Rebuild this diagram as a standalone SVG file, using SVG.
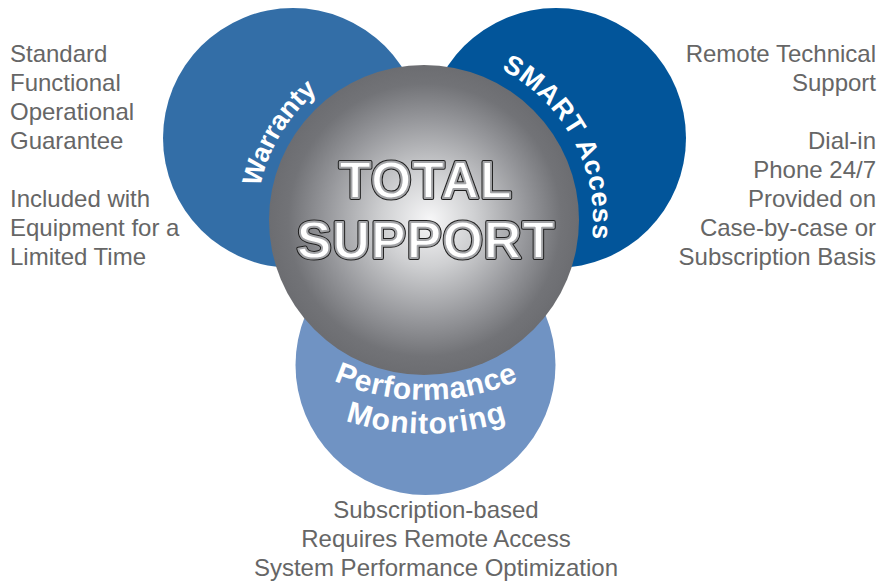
<svg xmlns="http://www.w3.org/2000/svg" width="881" height="581" viewBox="0 0 881 581">
  <defs>
    <radialGradient id="sphereGrad" cx="0.5" cy="0.5" r="0.5" fx="0.52" fy="0.5">
      <stop offset="0" stop-color="#f7f7f8"/>
      <stop offset="0.3" stop-color="#cfd0d2"/>
      <stop offset="0.65" stop-color="#96979b"/>
      <stop offset="0.88" stop-color="#727377"/>
      <stop offset="1" stop-color="#6c6d71"/>
    </radialGradient>
    <path id="arcWarranty" d="M 257,220 A 167 167 0 0 1 424,53"/>
    <path id="arcSmart" d="M 424,51 A 169 169 0 0 1 570.4,304.5"/>
    <path id="arcPerf" d="M 249.8,317.8 A 230 230 0 0 0 602.2,317.8"/>
    <path id="arcMon" d="M 224.5,339 A 262 262 0 0 0 627.5,339"/>
    <text id="tTotal" class="big" x="426" y="198">TOTAL</text>
    <text id="tSupport" class="big" x="426" y="258">SUPPORT</text>
  </defs>
  <style>
    .note { font-family: "Liberation Sans", Arial, sans-serif; font-size: 24px; fill: #666666; }
    .lbl { font-family: "Liberation Sans", Arial, sans-serif; font-size: 27px; font-weight: bold; fill: #ffffff; }
    .big { font-family: "Liberation Sans", Arial, sans-serif; font-size: 52px; font-weight: bold; letter-spacing: 1px; text-anchor: middle; }
    .bigOuter { fill: none; stroke: #1e1e1e; stroke-width: 4; stroke-linejoin: round; }
    .bigInner { fill: #ffffff; stroke: #a3a4a7; stroke-width: 2; stroke-linejoin: round; }
  </style>
  <rect width="881" height="581" fill="#ffffff"/>

  <g id="node-warranty">
    <circle cx="293" cy="138" r="130" fill="#336ea7"/>
    <text class="lbl"><textPath href="#arcWarranty" startOffset="90" text-anchor="middle" textLength="114">Warranty</textPath></text>
  </g>

  <g id="node-smart-access">
    <circle cx="556" cy="138" r="130" fill="#02559a"/>
    <text class="lbl"><textPath href="#arcSmart" startOffset="182" text-anchor="middle" textLength="204">SMART Access</textPath></text>
  </g>

  <g id="node-performance-monitoring">
    <circle cx="425.5" cy="365" r="130" fill="#7093c3"/>
    <text class="lbl" style="font-size:30px"><textPath href="#arcPerf" startOffset="50%" text-anchor="middle" textLength="190">Performance</textPath></text>
    <text class="lbl" style="font-size:30px"><textPath href="#arcMon" startOffset="50%" text-anchor="middle" textLength="164">Monitoring</textPath></text>
  </g>

  <g id="node-total-support">
    <circle cx="424" cy="220" r="155" fill="url(#sphereGrad)"/>
    <use href="#tTotal" class="bigOuter"/>
    <use href="#tTotal" class="bigInner"/>
    <use href="#tSupport" class="bigOuter"/>
    <use href="#tSupport" class="bigInner"/>
  </g>

  <g id="text-warranty">
    <text class="note" x="10" y="62" text-anchor="start">Standard</text>
    <text class="note" x="10" y="91" text-anchor="start">Functional</text>
    <text class="note" x="10" y="120" text-anchor="start">Operational</text>
    <text class="note" x="10" y="149" text-anchor="start">Guarantee</text>
    <text class="note" x="10" y="207" text-anchor="start">Included with</text>
    <text class="note" x="10" y="236" text-anchor="start">Equipment for a</text>
    <text class="note" x="10" y="265" text-anchor="start">Limited Time</text>
  </g>

  <g id="text-smart-access">
    <text class="note" x="876" y="62" text-anchor="end">Remote Technical</text>
    <text class="note" x="876" y="91" text-anchor="end">Support</text>
    <text class="note" x="876" y="149" text-anchor="end">Dial-in</text>
    <text class="note" x="876" y="178" text-anchor="end">Phone 24/7</text>
    <text class="note" x="876" y="207" text-anchor="end">Provided on</text>
    <text class="note" x="876" y="236" text-anchor="end">Case-by-case or</text>
    <text class="note" x="876" y="265" text-anchor="end">Subscription Basis</text>
  </g>

  <g id="text-performance-monitoring">
    <text class="note" x="436" y="518" text-anchor="middle">Subscription-based</text>
    <text class="note" x="436" y="547" text-anchor="middle">Requires Remote Access</text>
    <text class="note" x="436" y="576" text-anchor="middle">System Performance Optimization</text>
  </g>
</svg>
